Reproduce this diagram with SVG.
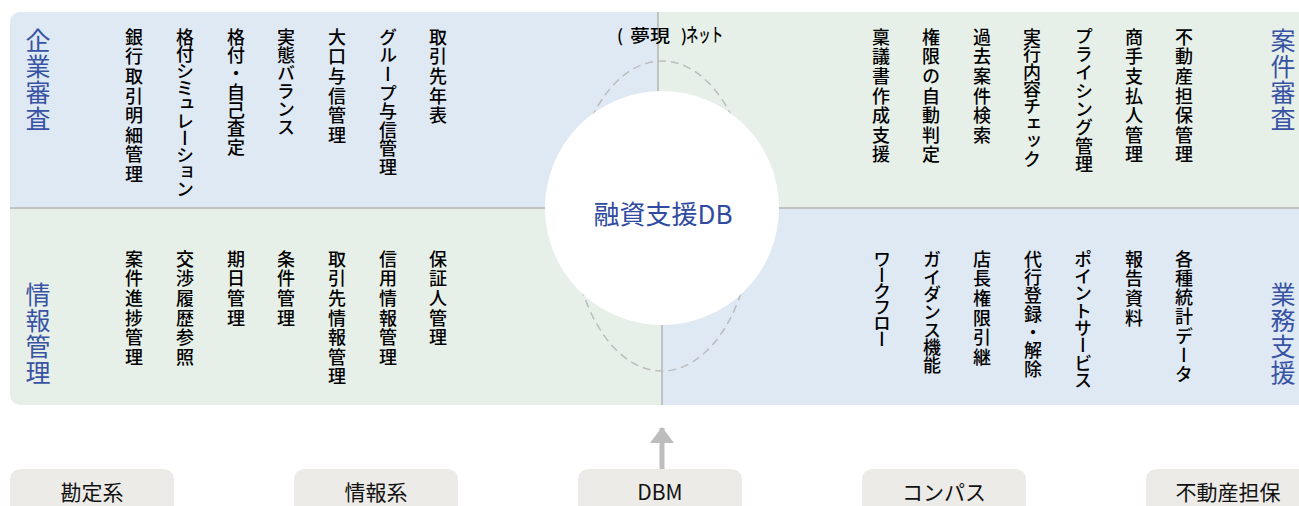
<svg xmlns="http://www.w3.org/2000/svg" width="1299" height="506" viewBox="0 0 1299 506">
<style>
.t{font-family:"Noto Sans CJK JP","Noto Sans",sans-serif;}
.item{font-family:"Noto Sans CJK JP",sans-serif;font-size:18px;font-weight:500;fill:#000;writing-mode:vertical-rl;letter-spacing:1.6px;}
.title{font-family:"Noto Sans CJK JP",sans-serif;font-size:25px;fill:#3853a4;writing-mode:vertical-rl;letter-spacing:1px;}
.box{fill:#edebe7;}
.btxt{font-family:"Noto Sans CJK JP","Liberation Sans",sans-serif;font-size:21px;fill:#111;text-anchor:middle;}
.net{font-family:"Noto Sans CJK JP",sans-serif;font-size:17px;font-weight:500;fill:#000;}
.div{stroke:#b5b5b5;stroke-width:1.5;fill:none;}
</style>
<defs>
<clipPath id="panel"><rect x="10" y="12" width="1310" height="393" rx="10"/></clipPath>
<marker id="arr" viewBox="0 0 24 16" refX="12" refY="1" markerWidth="24" markerHeight="16" markerUnits="userSpaceOnUse" orient="0">
<path d="M0 16 L12 0 L24 16 Z" fill="#bdbdbd"/>
</marker>
</defs>
<rect width="1299" height="506" fill="#ffffff"/>
<g id="quadrants" clip-path="url(#panel)">
<rect x="10" y="12" width="648" height="196" fill="#dfe9f4"/>
<rect x="658" y="12" width="660" height="196" fill="#e7f0e8"/>
<rect x="10" y="208" width="652" height="197" fill="#e7f0e8"/>
<rect x="662" y="208" width="660" height="197" fill="#dfe9f4"/>
<line class="div" x1="10" y1="208" x2="1299" y2="208"/>
<line class="div" x1="658" y1="12" x2="658" y2="208"/>
<line class="div" x1="662" y1="208" x2="662" y2="405"/>
</g>
<g id="yumeutsutsu-net">
<ellipse cx="662" cy="216" rx="91" ry="155" fill="none" stroke="#bcbcbc" stroke-width="1.5" stroke-dasharray="8 5"/>
<text class="net" x="617" y="42">(</text>
<text class="net" x="630" y="42" textLength="40" lengthAdjust="spacingAndGlyphs">夢現</text>
<text class="net" x="681" y="42">)</text>
<text class="net" x="686" y="42" style="font-size:19px" textLength="37" lengthAdjust="spacingAndGlyphs">ネット</text>
</g>
<g id="db">
<circle cx="662" cy="208" r="117" fill="#ffffff"/>
<text class="t" x="663" y="224" font-size="26" fill="#2f4aa0" text-anchor="middle">融資支援DB</text>
</g>
<g id="kigyou-shinsa">
<text class="title" x="38" y="28">企業審査</text>
<text class="item" x="134" y="28">銀行取引明細管理</text>
<text class="item" x="185" y="28" style="letter-spacing:-1.1px">格付シミュレーション</text>
<text class="item" x="236" y="28" style="letter-spacing:0.3px">格付・自己査定</text>
<text class="item" x="286" y="28" style="letter-spacing:0px">実態バランス</text>
<text class="item" x="337" y="28">大口与信管理</text>
<text class="item" x="388" y="28" style="letter-spacing:0.6px">グループ与信管理</text>
<text class="item" x="438" y="28">取引先年表</text>
</g>
<g id="anken-shinsa">
<text class="title" x="1283" y="28">案件審査</text>
<text class="item" x="881" y="28">稟議書作成支援</text>
<text class="item" x="931" y="28">権限の自動判定</text>
<text class="item" x="982" y="28">過去案件検索</text>
<text class="item" x="1032" y="28" style="letter-spacing:-0.6px">実行内容チェック</text>
<text class="item" x="1084" y="27" style="letter-spacing:0.3px">プライシング管理</text>
<text class="item" x="1134" y="28">商手支払人管理</text>
<text class="item" x="1184" y="28">不動産担保管理</text>
</g>
<g id="jouhou-kanri">
<text class="title" x="38" y="282">情報管理</text>
<text class="item" x="134" y="250">案件進捗管理</text>
<text class="item" x="185" y="250">交渉履歴参照</text>
<text class="item" x="236" y="250">期日管理</text>
<text class="item" x="286" y="250">条件管理</text>
<text class="item" x="337" y="250">取引先情報管理</text>
<text class="item" x="388" y="250">信用情報管理</text>
<text class="item" x="438" y="250">保証人管理</text>
</g>
<g id="gyoumu-shien">
<text class="title" x="1283" y="282">業務支援</text>
<text class="item" x="882" y="250" style="letter-spacing:-2px">ワークフロー</text>
<text class="item" x="932" y="250" style="letter-spacing:-0.3px">ガイダンス機能</text>
<text class="item" x="982" y="250">店長権限引継</text>
<text class="item" x="1033" y="250" style="letter-spacing:0.3px">代行登録・解除</text>
<text class="item" x="1083" y="250" style="letter-spacing:-0.7px">ポイントサービス</text>
<text class="item" x="1134" y="250">報告資料</text>
<text class="item" x="1184" y="250" style="letter-spacing:1.2px">各種統計データ</text>
</g>
<g id="kanjou"><rect class="box" x="10" y="469" width="164" height="60" rx="10"/><text class="btxt" x="92" y="500">勘定系</text></g>
<g id="jouhou"><rect class="box" x="294" y="469" width="164" height="60" rx="10"/><text class="btxt" x="376" y="500">情報系</text></g>
<g id="dbm"><rect class="box" x="578" y="469" width="164" height="60" rx="10"/><text class="btxt" x="660" y="500">DBM</text></g>
<g id="compass"><rect class="box" x="862" y="469" width="164" height="60" rx="10"/><text class="btxt" x="944" y="500">コンパス</text></g>
<g id="fudousan"><rect class="box" x="1146" y="469" width="164" height="60" rx="10"/><text class="btxt" x="1228" y="500">不動産担保</text></g>
<g id="connectors">
<line x1="662" y1="469" x2="662" y2="428" stroke="#bdbdbd" stroke-width="5" marker-end="url(#arr)"/>
</g>
</svg>
